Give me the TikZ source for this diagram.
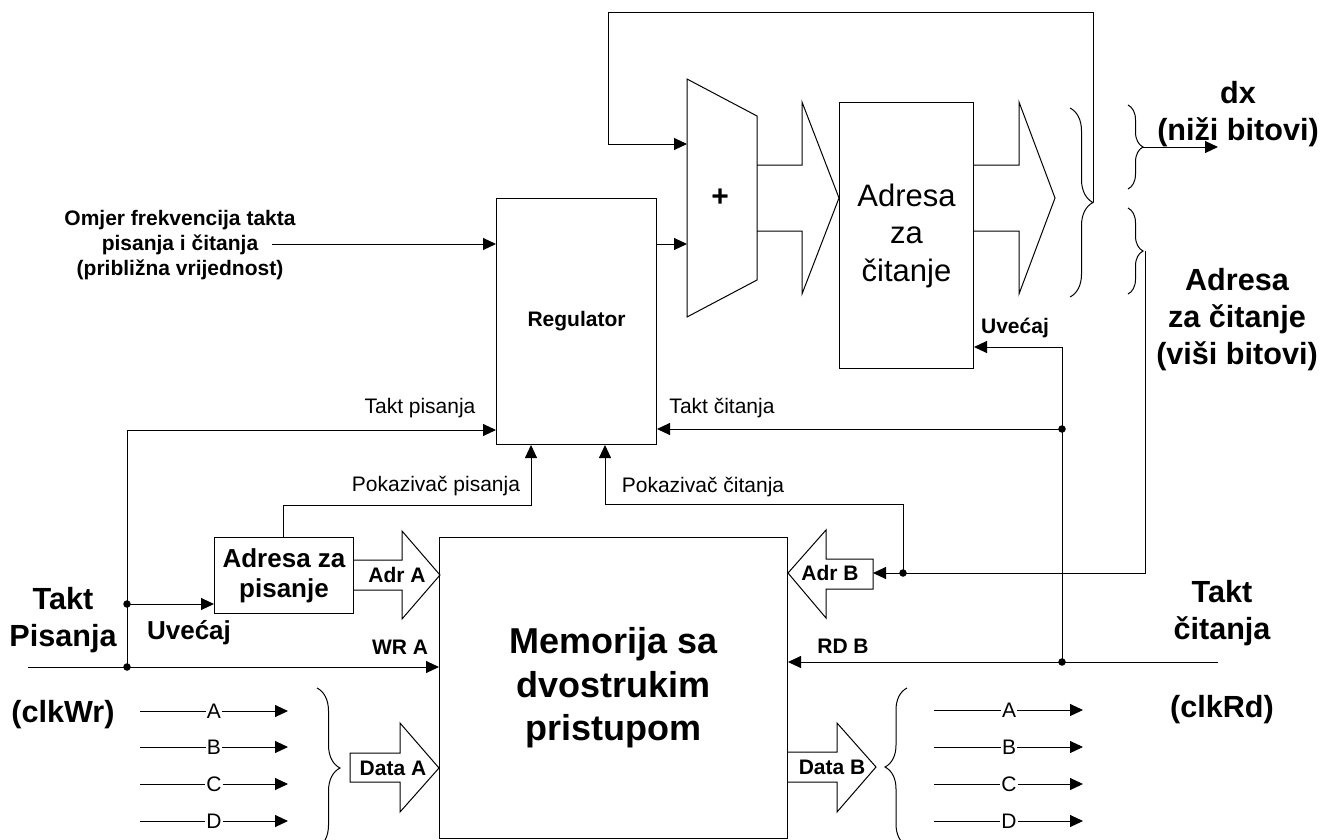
\documentclass[tikz,border=0pt]{standalone}
\usepackage{fontspec}
\setmainfont{Liberation Sans}
\usetikzlibrary{arrows.meta,decorations.pathreplacing}
\begin{document}
\begin{tikzpicture}[x=1pt,y=-1pt, line width=1pt,
  >={Triangle[length=13pt,width=12pt]},
  blk/.style={draw, inner sep=0pt, anchor=north west, align=center},
  fsm/.style={font=\fontsize{21}{25}\selectfont},
  fsmb/.style={font=\fontsize{21}{25}\selectfont\bfseries, align=center},
  fmid/.style={font=\fontsize{26}{30}\selectfont\bfseries, align=center},
  fbig/.style={font=\fontsize{30.6}{37}\selectfont\bfseries, align=center},
  brc/.style={decorate, decoration={brace, amplitude=#1}},
  dot/.style={circle, fill, inner sep=0pt, minimum size=7.5pt},
  letter/.style={fill=white, inner sep=0.8pt, font=\fontsize{21}{25}\selectfont}
]
\useasboundingbox (0,0) rectangle (1324,839);

% ---------- blocks ----------
\node[blk, minimum width=160pt, minimum height=246pt, fsmb] (reg) at (496,198) {Regulator};
\node[blk, minimum width=134pt, minimum height=266pt, font=\fontsize{31}{37.5}\selectfont] (ra) at (839,102) {Adresa\\za\\čitanje};
\node[blk, minimum width=139pt, minimum height=76pt, fmid] (wa) at (214,537) {Adresa za\\pisanje};
\node[blk, minimum width=348pt, minimum height=301pt, font=\fontsize{36}{43.5}\selectfont\bfseries] (mem) at (439,537) {Memorija sa\\dvostrukim\\pristupom};

% adder
\draw (687,79) -- (757,116) -- (757,280) -- (687,317) -- cycle;
\node[font=\fontsize{30}{32}\selectfont\bfseries] (plus) at (720,198) {+};
\coordinate (addA) at (687,144);
\coordinate (addB) at (687,244);

% ---------- bus arrows ----------
\draw (757,165) -- (802,165) -- (802,102) -- (839,198) -- (802,294) -- (802,231) -- (757,231);
\draw (973,165) -- (1019,165) -- (1019,102) -- (1055,198) -- (1019,294) -- (1019,231) -- (973,231);
\draw (353,560) -- (402,560) -- (402,531) -- (440,575) -- (402,619) -- (402,590) -- (353,590);
\node[fsmb] (adrA) at (397,575) {Adr A};
\draw (350,753) -- (400,753) -- (400,723) -- (439,768) -- (400,812) -- (400,782) -- (350,782) -- cycle;
\node[fsmb] (datA) at (393,768) {Data A};
\draw (787,752) -- (837,752) -- (837,723) -- (876,767) -- (837,812) -- (837,782) -- (787,782);
\node[fsmb] (datB) at (832,767) {Data B};
\draw (873,559) -- (826,559) -- (826,530) -- (788,573) -- (826,618) -- (826,589) -- (873,589) -- cycle;
\node[fsmb] (adrB) at (830,573) {Adr B};

% ---------- braces ----------
\draw[brc=23] (1070,108) -- (1070,297);
\coordinate (bt) at (1093,202);
\draw[brc=15] (1128,105) -- (1128,189);
\coordinate (dxt) at (1143,147);
\draw[brc=15] (1128,208) -- (1128,294);
\coordinate (hit) at (1145,251);
\draw[brc=23] (317,688) -- (317,848);
\draw[brc=22] (907,846) -- (907,688);

% ---------- dots ----------
\node[dot] (dw1) at (127,604) {};
\node[dot] (dw2) at (127,667) {};
\node[dot] (dr1) at (1062,429) {};
\node[dot] (dr2) at (1062,662) {};
\node[dot] (dp) at (903,573) {};

% ---------- connectors ----------
\draw[->] (bt) -- (1093,12) -- (608,12) -- (608,144) -- (addA);
\draw[->] (reg.east |- addB) -- (addB);
\node[fsmb] (om) at (180,245) {Omjer frekvencija takta\\pisanja i čitanja\\(približna vrijednost)};
\coordinate (omS) at (272,244);
\draw[->] (omS) -- (omS -| reg.west);
\coordinate (tpS) at (127,430);
\draw[->] (dw2.center) -- (tpS) -- (tpS -| reg.west);
\draw[->] (dw1.center) -- (dw1 -| wa.west);
\coordinate (wrS) at (28,667);
\draw[->] (wrS) -- (wrS -| mem.west);
\coordinate (ppC) at (283,505);
\coordinate (ppE) at (531,505);
\draw[->] (ppC |- wa.north) -- (ppC) -- (ppE) -- (ppE |- reg.south);
\coordinate (pcC) at (605,504);
\draw[->] (dp.center) -- (dp |- pcC) -- (pcC) -- (pcC |- reg.south);
\draw[->] (hit) -- (1145,573) -- (873,573);
\coordinate (rdS) at (1218,662);
\draw[->] (rdS) -- (rdS -| mem.east);
\coordinate (uvC) at (1062,347);
\draw[->] (dr2.center) -- (uvC) -- (uvC -| ra.east);
\draw[->] (dr1.center) -- (dr1 -| reg.east);
\draw[->] (dxt) -- (1218,147);

% A-D lines
\foreach \y/\l in {711/A,747/B,784/C,821/D} {
  \node[letter] (L\l) at (214,\y) {\l};
  \draw (140,\y) -- (L\l);
  \draw[->] (L\l) -- (288,\y);
}
\foreach \y/\l in {710/A,747/B,784/C,821/D} {
  \node[letter] (R\l) at (1009,\y) {\l};
  \draw (934,\y) -- (R\l);
  \draw[->] (R\l) -- (1083,\y);
}

% ---------- labels ----------
\node[fsm] (ltp) at (420,408) {Takt pisanja};
\node[fsm] (ltc) at (722,408) {Takt čitanja};
\node[fsm] (lpp) at (436,486) {Pokazivač pisanja};
\node[fsm] (lpc) at (703,487) {Pokazivač čitanja};
\node[fbig] (ltpw) at (63,620) {Takt\\Pisanja};
\node[fbig] (lclw) at (63,715) {(clkWr)};
\node[fbig] (ltcr) at (1222,613) {Takt\\čitanja};
\node[fbig] (lclr) at (1222,710) {(clkRd)};
\node[fbig] (ldx) at (1238,114) {dx\\(niži bitovi)};
\node[fbig] (lhi) at (1237,320) {Adresa\\za čitanje\\(viši bitovi)};
\node[fmid] (luv1) at (189,633) {Uvećaj};
\node[fsmb] (luv2) at (1015,328) {Uvećaj};
\node[fsmb] (lwr) at (400,647) {WR A};
\node[fsmb] (lrd) at (843,646) {RD B};
\end{tikzpicture}
\end{document}
